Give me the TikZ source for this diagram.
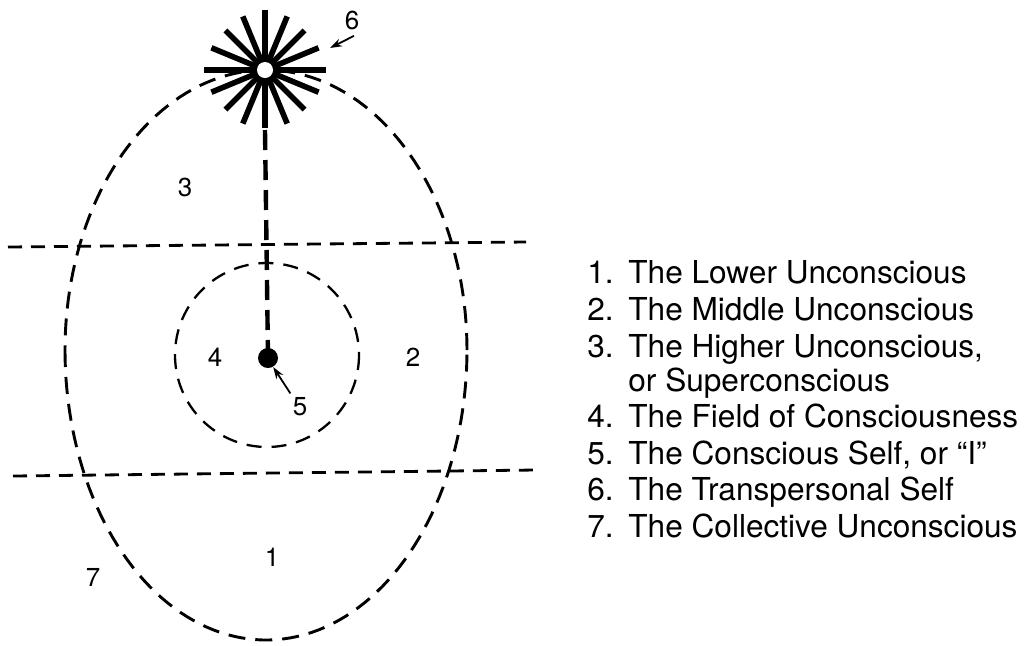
\documentclass[tikz,border=0pt]{standalone}
\usepackage{fontspec}
\setmainfont{TeX Gyre Heros}
\usetikzlibrary{arrows.meta}

\tikzset{
  eggline/.style={line width=1.45pt, dash pattern=on 8.5pt off 5pt},
  levelline/.style={line width=1.4pt, dash pattern=on 7pt off 4.5pt},
  fieldline/.style={line width=1.15pt, dash pattern=on 7.5pt off 5pt},
  selfline/.style={line width=2.2pt, dash pattern=on 10pt off 5pt},
  starray/.style={line width=2.8pt},
  region/.style={inner sep=0pt, font=\fontsize{13}{15}\selectfont},
  legendnum/.style={anchor=base west, inner sep=0pt, font=\fontsize{15.8}{18}\selectfont},
  legendtext/.style={anchor=base west, inner sep=0pt, font=\fontsize{15.8}{18}\selectfont},
}

\begin{document}
\begin{tikzpicture}[x=0.5pt, y=-0.5pt]
\useasboundingbox (0,0) rectangle (1034,645);

% the egg
\draw[eggline] plot[domain=0:180, samples=90] ({266+201*cos(\x)}, {350-280*sin(\x)});
\draw[eggline] plot[domain=180:360, samples=90] ({266+201*cos(\x)}, {350-290*sin(\x)});

% levels
\draw[levelline] (8,247) -- (526,242);
\draw[levelline] (13,476) -- (536,470);

% field of consciousness
\draw[fieldline] (267,355) circle[radius=92];

% transpersonal self
\node[inner sep=0pt, minimum size=16pt] (star) at (265,70) {};
\foreach \a/\r in {0/61,22.5/58,45/56,67.5/58,90/58,112.5/58,135/56,157.5/58,
                   180/61,202.5/58,225/56,247.5/58,270/60,292.5/58,315/56,337.5/58}
  \draw[starray] (star.center) -- +(\a:\r);
\fill[white] (star.center) circle[radius=8];

% conscious self
\node[circle, fill, inner sep=0pt, minimum size=10pt] (self) at (268,358) {};
\draw[selfline] (265,130) -- (self.center);

% region numbers
\node[region] (n1) at (272,557) {1};
\node[region] (n2) at (413,357) {2};
\node[region] (n3) at (185,187) {3};
\node[region] (n4) at (215,357) {4};
\node[region] (n5) at (300,407) {5};
\node[region] (n6) at (352,20) {6};
\node[region] (n7) at (93,577) {7};

\coordinate (startip) at (330,48);
\draw[line width=0.9pt, -{Stealth[length=6pt, width=4pt]}] (n6.south) ++(2,6) -- (startip);
\draw[line width=0.9pt, -{Stealth[length=6pt, width=4pt]}] (n5.north west) ++(-2,-4) -- (self.-60);

% legend
\node[legendnum] (l1) at (587,283) {1.};
\node[legendtext] (t1) at (628,283) {The Lower Unconscious};
\node[legendnum] (l2) at (587,320) {2.};
\node[legendtext] (t2) at (628,320) {The Middle Unconscious};
\node[legendnum] (l3) at (587,357) {3.};
\node[legendtext] (t3) at (628,357) {The Higher Unconscious,};
\node[legendtext] (t3b) at (628,391) {or Superconscious};
\node[legendnum] (l4) at (587,427) {4.};
\node[legendtext] (t4) at (628,427) {The Field of Consciousness};
\node[legendnum] (l5) at (587,464) {5.};
\node[legendtext] (t5) at (628,464) {The Conscious Self, or “I”};
\node[legendnum] (l6) at (587,500) {6.};
\node[legendtext] (t6) at (628,500) {The Transpersonal Self};
\node[legendnum] (l7) at (587,537) {7.};
\node[legendtext] (t7) at (628,537) {The Collective Unconscious};

\end{tikzpicture}
\end{document}
